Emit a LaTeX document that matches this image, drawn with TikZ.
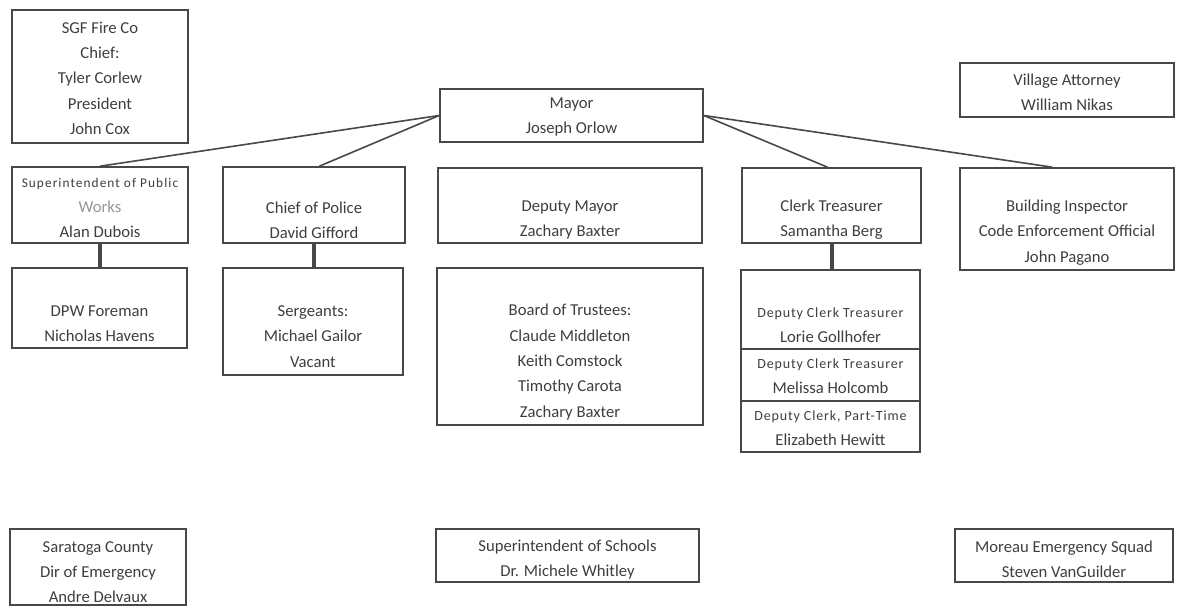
\documentclass[tikz,border=0pt]{standalone}
\usepackage{fontspec}
\setmainfont{Carlito}
\definecolor{OrgLine}{RGB}{72,72,72}
\definecolor{OrgText}{RGB}{62,62,62}
\definecolor{OrgGray}{RGB}{150,150,150}
\newcommand{\orgsmall}{\fontsize{10.5}{19}\selectfont\addfontfeature{LetterSpace=6}}
\usetikzlibrary{positioning}

\begin{document}
\begin{tikzpicture}[
    x=0.75pt, y=-0.75pt,
    box/.style={rectangle, draw=OrgLine, line width=1.2pt, inner sep=0pt},
    txt/.style={align=center, text=OrgText, inner sep=0pt, font=\fontsize{12.5}{19}\selectfont},
    link/.style={draw=OrgLine, line width=1.2pt},
    stem/.style={draw=OrgLine, line width=3pt}
]
    \useasboundingbox (0,0) rectangle (1177,606);

    % top row
    \node[box, minimum width=132pt, minimum height=99.75pt] (fire) at (100,76.5) {};
    \node[txt] (fire-t) at (100,78) {SGF Fire Co\\Chief:\\Tyler Corlew\\President\\John Cox};
    \node[box, minimum width=197.25pt, minimum height=39.75pt] (mayor) at (571.5,115.5) {};
    \node[txt] (mayor-t) at (571.5,117) {Mayor\\Joseph Orlow};
    \node[box, minimum width=160.5pt, minimum height=40.5pt] (attorney) at (1067,90) {};
    \node[txt] (attorney-t) at (1067,92) {Village Attorney\\William Nikas};

    % second row
    \node[box, minimum width=132pt, minimum height=57pt] (spw) at (100,205) {};
    \node[txt] (spw-t) at (100,208) {{\fontsize{10}{19}\selectfont\addfontfeature{LetterSpace=8}Superintendent of Public}\\{\color{OrgGray}Works}\\Alan Dubois};
    \node[box, minimum width=136.5pt, minimum height=57pt] (police) at (314,205) {};
    \node[txt] (police-t) at (314,220) {Chief of Police\\David Gifford};
    \node[box, minimum width=198pt, minimum height=56.25pt] (dmayor) at (570,205.5) {};
    \node[txt] (dmayor-t) at (570,220) {Deputy Mayor\\Zachary Baxter};
    \node[box, minimum width=134.25pt, minimum height=56.25pt] (clerk) at (831.5,205.5) {};
    \node[txt] (clerk-t) at (831.5,219.5) {Clerk Treasurer\\Samantha Berg};
    \node[box, minimum width=160.5pt, minimum height=76.5pt] (building) at (1067,219) {};
    \node[txt] (building-t) at (1067,232.5) {Building Inspector\\Code Enforcement Official\\John Pagano};

    % third row
    \node[box, minimum width=131.25pt, minimum height=60pt] (dpw) at (99.5,308) {};
    \node[txt] (dpw-t) at (99.5,324) {DPW Foreman\\Nicholas Havens};
    \node[box, minimum width=135pt, minimum height=80.25pt] (sgt) at (313,321.5) {};
    \node[txt] (sgt-t) at (313,336.5) {Sergeants:\\Michael Gailor\\Vacant};
    \node[box, minimum width=199.5pt, minimum height=117.75pt] (board) at (570,346.5) {};
    \node[txt] (board-t) at (570,362) {Board of Trustees:\\Claude Middleton\\Keith Comstock\\Timothy Carota\\Zachary Baxter};
    \node[box, minimum width=134.25pt, minimum height=59.25pt] (dc1) at (830.5,309.5) {};
    \node[txt] (dc1-t) at (830.5,325.5) {{\orgsmall Deputy Clerk Treasurer}\\Lorie Gollhofer};
    \node[box, minimum width=134.25pt, minimum height=39pt] (dc2) at (830.5,375) {};
    \node[txt] (dc2-t) at (830.5,376) {{\orgsmall Deputy Clerk Treasurer}\\Melissa Holcomb};
    \node[box, minimum width=134.25pt, minimum height=38.25pt] (dc3) at (830.5,426.5) {};
    \node[txt] (dc3-t) at (830.5,428.5) {{\orgsmall Deputy Clerk, Part-Time}\\Elizabeth Hewitt};

    % bottom row
    \node[box, minimum width=132pt, minimum height=57pt] (county) at (98,567) {};
    \node[txt] (county-t) at (98,572) {Saratoga County\\Dir of Emergency\\Andre Delvaux};
    \node[box, minimum width=197.25pt, minimum height=39.75pt] (schools) at (567.5,555.5) {};
    \node[txt] (schools-t) at (567.5,559.5) {Superintendent of Schools\\Dr. Michele Whitley};
    \node[box, minimum width=163.5pt, minimum height=39.75pt] (squad) at (1064,555.5) {};
    \node[txt] (squad-t) at (1064,559.5) {Moreau Emergency Squad\\Steven VanGuilder};

    \draw[link] (mayor.west) -- (spw.north);
    \draw[link] (mayor.west) -- ([xshift=4pt]police.north);
    \draw[link] (mayor.east) -- ([xshift=-3pt]clerk.north);
    \draw[link] (mayor.east) -- ([xshift=-11pt]building.north);
    \draw[stem] (spw.south) -- (spw.south |- dpw.north);
    \draw[stem] (police.south) -- (police.south |- sgt.north);
    \draw[stem] (clerk.south) -- (clerk.south |- dc1.north);
\end{tikzpicture}
\end{document}
